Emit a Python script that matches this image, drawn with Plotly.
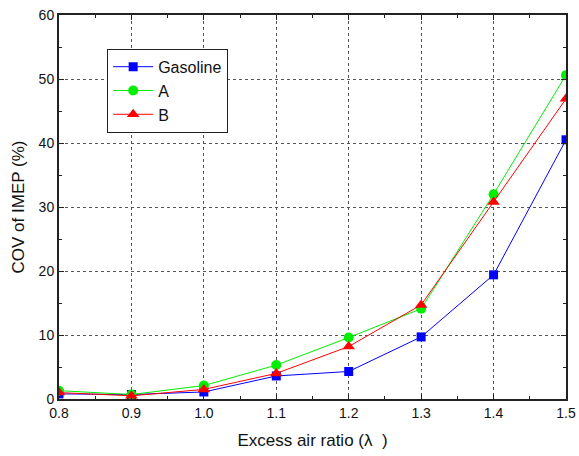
import plotly.graph_objects as go

# Excess air ratio (lambda) and COV of IMEP (%) for each fuel
lam = [0.8, 0.9, 1.0, 1.1, 1.2, 1.3, 1.4, 1.5]
gasoline = [0.8, 0.7, 1.1, 3.6, 4.3, 9.7, 19.4, 40.5]
fuel_a = [1.3, 0.7, 2.1, 5.3, 9.6, 14.1, 32.0, 50.6]
fuel_b = [1.0, 0.5, 1.5, 4.0, 8.2, 14.7, 30.8, 46.9]

x_ticks = [0.8, 0.9, 1.0, 1.1, 1.2, 1.3, 1.4, 1.5]
x_labels = ["0.8", "0.9", "1.0", "1.1", "1.2", "1.3", "1.4", "1.5"]
y_ticks = [0, 10, 20, 30, 40, 50, 60]

font = "Liberation Sans, Arial, sans-serif"

fig = go.Figure()
fig.add_trace(go.Scatter(x=lam, y=gasoline, name="Gasoline", mode="lines+markers",
                         line=dict(color="#0000ff", width=1),
                         marker=dict(symbol="square", size=9, color="#0000ff")))
fig.add_trace(go.Scatter(x=lam, y=fuel_a, name="A", mode="lines+markers",
                         line=dict(color="#00ee00", width=1),
                         marker=dict(symbol="circle", size=10, color="#00ee00")))
fig.add_trace(go.Scatter(x=lam, y=fuel_b, name="B", mode="lines+markers",
                         line=dict(color="#ff0000", width=1),
                         marker=dict(symbol="triangle-up", size=11, color="#ff0000")))

axis_common = dict(
    showline=True, linecolor="#222", linewidth=2, mirror="allticks",
    ticks="inside", ticklen=5, tickcolor="#222", tickwidth=1,
    showgrid=True, gridcolor="#555", griddash="dot", gridwidth=1,
    zeroline=False, automargin=False,
    tickfont=dict(family=font, size=14, color="#111"),
)

fig.update_xaxes(
    range=[0.8, 1.5], tickvals=x_ticks, ticktext=x_labels,
    minor=dict(dtick=0.05, ticks="inside", ticklen=3, tickcolor="#222", showgrid=False),
    title=dict(text="Excess air ratio (λ  )", font=dict(family=font, size=17, color="#111"), standoff=14),
    **axis_common,
)
fig.update_yaxes(
    range=[0, 60], tickvals=y_ticks,
    minor=dict(dtick=5, ticks="inside", ticklen=3, tickcolor="#222", showgrid=False),
    title=dict(text="COV of IMEP (%)", font=dict(family=font, size=17, color="#111"), standoff=10),
    **axis_common,
)

fig.update_layout(
    width=579, height=456,
    margin=dict(l=59, r=13, t=15, b=57),
    paper_bgcolor="white", plot_bgcolor="white",
    font=dict(family=font, color="#111"),
    legend=dict(x=0.095, y=0.912, xanchor="left", yanchor="top",
                bgcolor="white", bordercolor="#222", borderwidth=1,
                font=dict(family=font, size=16, color="#111"),
                tracegroupgap=0, itemwidth=40),
    showlegend=True,
)

fig.write_html("out.html")
